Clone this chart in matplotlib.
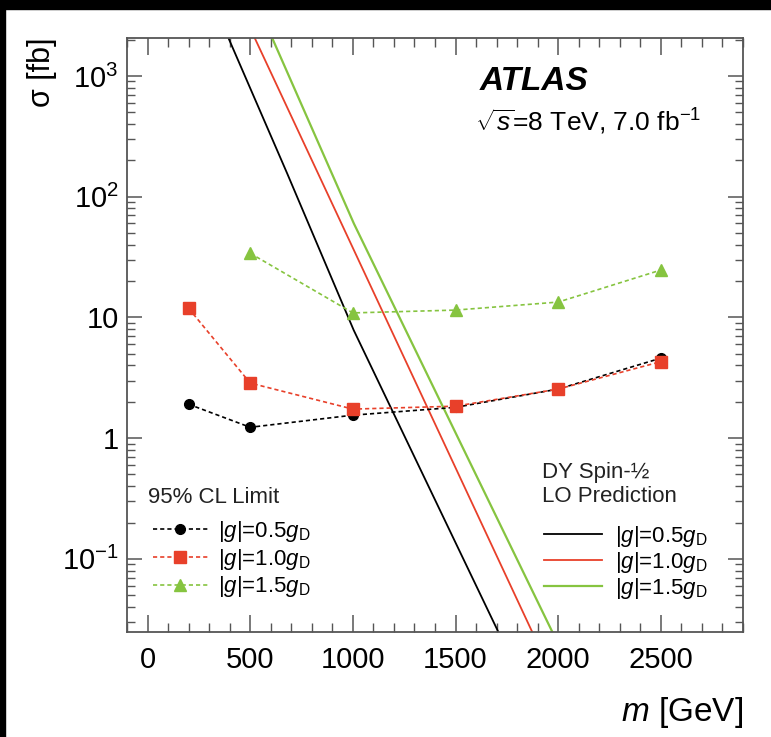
import matplotlib
matplotlib.use("Agg")
import matplotlib.pyplot as plt
from matplotlib.patches import Rectangle
from matplotlib.ticker import FixedLocator, MultipleLocator, LogLocator, NullFormatter

plt.rcParams['font.family'] = ['Liberation Sans', 'DejaVu Sans']
plt.rcParams['mathtext.fontset'] = 'custom'
plt.rcParams['mathtext.rm'] = 'Liberation Sans'
plt.rcParams['mathtext.it'] = 'Liberation Sans:italic'
plt.rcParams['mathtext.bf'] = 'Liberation Sans:bold'

# --- data ---
# 95% CL limits [fb]
mass_limit = [200, 500, 1000, 1500, 2000, 2500]
limit_05 = [1.91, 1.23, 1.55, 1.80, 2.55, 4.6]
limit_10 = [11.9, 2.86, 1.74, 1.84, 2.55, 4.3]
mass_limit_15 = [500, 1000, 1500, 2000, 2500]
limit_15 = [34, 10.9, 11.5, 13.4, 24.7]

# DY spin-1/2 LO prediction [fb]
pred_mass_05 = [394, 680, 1004, 1709]
pred_05 = [2065, 156, 7.85, 0.0247]
pred_mass_10 = [522, 1005, 1874]
pred_10 = [2065, 36.1, 0.0247]
pred_mass_15 = [607, 1005, 1972]
pred_15 = [2065, 59.9, 0.0247]

labels = [r'$|g|$=0.5$g_{\mathrm{D}}$', r'$|g|$=1.0$g_{\mathrm{D}}$', r'$|g|$=1.5$g_{\mathrm{D}}$']
y_ticks = [0.1, 1, 10, 100, 1000]
y_ticklabels = [r'$10^{-1}$', '1', '10', r'$10^{2}$', r'$10^{3}$']
x_ticks = [0, 500, 1000, 1500, 2000, 2500]

BLACK = '#000000'
RED = '#e8402a'
GREEN = '#86c440'

fig = plt.figure(figsize=(7.71, 7.37), dpi=100, facecolor='white')
ax = fig.add_axes([0.1647, 0.1425, 0.799, 0.806])

# black frame bands of the screenshot (top and left only)
fig.patches.append(Rectangle((0, 1 - 9 / 737), 1, 9 / 737, transform=fig.transFigure,
                             color='black', zorder=0))
fig.patches.append(Rectangle((0, 0), 5 / 771, 1, transform=fig.transFigure,
                             color='black', zorder=0))

# predictions
p05, = ax.plot(pred_mass_05, pred_05, color=BLACK, lw=1.3)
p10, = ax.plot(pred_mass_10, pred_10, color=RED, lw=1.3)
p15, = ax.plot(pred_mass_15, pred_15, color=GREEN, lw=1.6)

# limits
dash = (0, (2.5, 1.8))
l05, = ax.plot(mass_limit, limit_05, color=BLACK, ls=dash, lw=1.2,
               marker='o', ms=7, zorder=3)
l10, = ax.plot(mass_limit, limit_10, color=RED, ls=dash, lw=1.2,
               marker='s', ms=8.5, zorder=4)
l15, = ax.plot(mass_limit_15, limit_15, color=GREEN, ls=dash, lw=1.2,
               marker='^', ms=8.5, zorder=3)

ax.set_yscale('log')
ax.set_xlim(-100, 2900)
ax.set_ylim(0.0248, 2065)

ax.xaxis.set_major_locator(FixedLocator(x_ticks))
ax.xaxis.set_minor_locator(MultipleLocator(100))
ax.yaxis.set_major_locator(FixedLocator(y_ticks))
ax.set_yticklabels(y_ticklabels)
ax.yaxis.set_minor_locator(LogLocator(base=10, subs=range(2, 10)))
ax.yaxis.set_minor_formatter(NullFormatter())

for s in ax.spines.values():
    s.set_color('#555555')
    s.set_linewidth(1.3)
ax.tick_params(which='both', direction='in', top=True, right=True, color='#555555')
ax.tick_params(axis='x', which='major', length=12, width=1.1, labelsize=21, pad=10)
ax.tick_params(axis='x', which='minor', length=6.5, width=1.0)
ax.tick_params(axis='y', which='major', length=10.5, width=1.1, labelsize=21, pad=6)
ax.tick_params(axis='y', which='minor', length=5.5, width=1.0)

ax.text(-0.138, 1.0, 'σ [fb]', transform=ax.transAxes, rotation=90,
        ha='center', va='top', fontsize=22)
ax.text(1.0, -0.136, r'$m$ [GeV]', transform=ax.transAxes,
        ha='right', va='center', fontsize=24)

ax.text(0.573, 0.926, 'ATLAS', transform=ax.transAxes, ha='left', va='center',
        fontsize=24, fontweight='bold', fontstyle='italic')
ax.text(0.565, 0.859, r'$\sqrt{s}$=8 TeV, 7.0 fb$^{-1}$', transform=ax.transAxes,
        ha='left', va='center', fontsize=19)

# legend titles as separate texts, entries below them
ax.text(0.034, 0.2256, '95% CL Limit', transform=ax.transAxes,
        ha='left', va='center', fontsize=16, color='#222222')
ax.text(0.6737, 0.2677, 'DY Spin-½', transform=ax.transAxes,
        ha='left', va='center', fontsize=16, color='#222222')
ax.text(0.6737, 0.2273, 'LO Prediction', transform=ax.transAxes,
        ha='left', va='center', fontsize=16, color='#222222')

leg1 = ax.legend([l05, l10, l15], labels, loc='upper left',
                 bbox_to_anchor=(0.027, 0.205), frameon=False, fontsize=16,
                 handlelength=2.5, handletextpad=0.45, labelspacing=0.12,
                 borderaxespad=0)
ax.add_artist(leg1)
ax.legend([p05, p10, p15], labels, loc='upper left',
          bbox_to_anchor=(0.663, 0.197), frameon=False, fontsize=16,
          handlelength=2.6, handletextpad=0.6, labelspacing=0.05,
          borderaxespad=0)

fig.savefig('out.png', dpi=100, facecolor='white')
